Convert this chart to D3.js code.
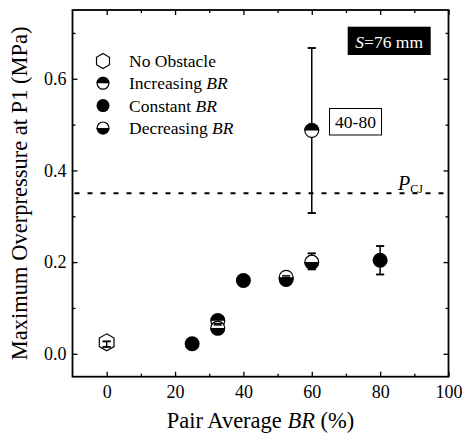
<!DOCTYPE html>
<html><head><meta charset="utf-8">
<script src="https://cdn.jsdelivr.net/npm/d3@7"></script>
<style>body{margin:0;background:#fff}</style>
</head><body><svg id="c" width="462" height="436"></svg>
<script>
// Data
const seriesNames = ["No Obstacle", "Increasing BR", "Constant BR", "Decreasing BR"];
const noObstacle = [{x: 0, y: 0.025, lo: 0.015, hi: 0.027}];
const increasingBR = [
  {x: 32.5, y: 0.072, lo: 0.066, hi: 0.079},
  {x: 60, y: 0.487, lo: 0.307, hi: 0.667}
];
const constantBR = [
  {x: 25, y: 0.022, lo: 0.019, hi: 0.025},
  {x: 40, y: 0.160, lo: 0.156, hi: 0.164},
  {x: 52.5, y: 0.162, lo: 0.158, hi: 0.166},
  {x: 80, y: 0.204, lo: 0.173, hi: 0.235}
];
const decreasingBR = [
  {x: 32.5, y: 0.056, lo: 0.051, hi: 0.063},
  {x: 52.5, y: 0.167, lo: 0.160, hi: 0.170},
  {x: 60, y: 0.200, lo: 0.184, hi: 0.219}
];
const xTicks = [0, 20, 40, 60, 80, 100];
const xMinor = [10, 30, 50, 70, 90];
const yTicks = [0.0, 0.2, 0.4, 0.6];
const yMinor = [0.1, 0.3, 0.5, 0.7];
const pCJ = 0.35;

const FONT = "'Liberation Serif', 'Times New Roman', 'DejaVu Serif', serif";
const svg = d3.select("#c").attr("font-family", FONT);
const L = 72.5, R = 448.5, T = 10, B = 376.7;
const x = d3.scaleLinear().domain([-10, 100]).range([L, R]);
const y = d3.scaleLinear().domain([-0.05, 0.75]).range([B, T]);

// Axes (ticks inward, all four sides)
const fmtY = d3.format(".1f");
function styleAxis(g){ g.attr("font-family", FONT); g.select(".domain").remove(); g.selectAll("line").attr("stroke","#000").attr("stroke-width",1.3); g.selectAll("text").attr("font-size",18).attr("fill","#000"); }
svg.append("g").attr("transform",`translate(0,${B})`).call(d3.axisBottom(x).tickValues(xTicks).tickSize(-5).tickPadding(9).tickFormat(d3.format("d"))).call(styleAxis);
svg.append("g").attr("transform",`translate(0,${B})`).call(d3.axisBottom(x).tickValues(xMinor).tickSize(-3).tickFormat("")).call(styleAxis);
svg.append("g").attr("transform",`translate(0,${T})`).call(d3.axisTop(x).tickValues(xTicks).tickSize(-5).tickFormat("")).call(styleAxis);
svg.append("g").attr("transform",`translate(0,${T})`).call(d3.axisTop(x).tickValues(xMinor).tickSize(-3).tickFormat("")).call(styleAxis);
svg.append("g").attr("transform",`translate(${L},0)`).call(d3.axisLeft(y).tickValues(yTicks).tickSize(-5).tickPadding(6).tickFormat(fmtY)).call(styleAxis);
svg.append("g").attr("transform",`translate(${L},0)`).call(d3.axisLeft(y).tickValues(yMinor).tickSize(-3).tickFormat("")).call(styleAxis);
svg.append("g").attr("transform",`translate(${R},0)`).call(d3.axisRight(y).tickValues(yTicks).tickSize(-5).tickFormat("")).call(styleAxis);
svg.append("g").attr("transform",`translate(${R},0)`).call(d3.axisRight(y).tickValues(yMinor).tickSize(-3).tickFormat("")).call(styleAxis);

// frame
svg.append("rect").attr("x",L).attr("y",T).attr("width",R-L).attr("height",B-T).attr("fill","none").attr("stroke","#000").attr("stroke-width",1.8);

// P_CJ line
svg.append("line").attr("x1",L+2).attr("x2",R-2).attr("y1",y(pCJ)).attr("y2",y(pCJ))
  .attr("stroke","#000").attr("stroke-width",2).attr("stroke-dasharray","5,8");
const pt = svg.append("text").attr("x",398).attr("y",y(pCJ)-3).attr("font-size",20);
pt.append("tspan").attr("font-style","italic").text("P");
pt.append("tspan").attr("font-size",12).attr("dy",3).text("CJ");

const all = [
  {k:"no", d:noObstacle},
  {k:"const", d:constantBR},
  {k:"inc", d:increasingBR},
  {k:"dec", d:decreasingBR}
];
const eg = svg.append("g");
function errBars(g, withStem){
  all.forEach(s=>s.d.forEach(p=>{
    const cx=x(p.x);
    if(withStem) g.append("line").attr("x1",cx).attr("x2",cx).attr("y1",y(p.lo)).attr("y2",y(p.hi)).attr("stroke","#000").attr("stroke-width",1.5);
    [p.lo,p.hi].forEach(v=>g.append("line").attr("x1",cx-4).attr("x2",cx+4).attr("y1",y(v)).attr("y2",y(v)).attr("stroke","#000").attr("stroke-width",1.5));
  }));
}
errBars(eg, true);

function hexPath(r){ const pts=d3.range(6).map(i=>{const a=Math.PI/3*i-Math.PI/2;return [r*Math.cos(a),r*Math.sin(a)];}); return "M"+pts.join("L")+"Z"; }
function marker(g, kind, cx, cy, r){
  const m=g.append("g").attr("transform",`translate(${cx},${cy})`);
  if(kind==="no"){ m.append("path").attr("d",hexPath(r+1)).attr("fill","none").attr("stroke","#000").attr("stroke-width",1.2); return; }
  if(kind==="const"){ m.append("circle").attr("r",r).attr("fill","#000"); return; }
  m.append("circle").attr("r",r-0.6).attr("fill","#fff").attr("stroke","#000").attr("stroke-width",1.2);
  const arc = d3.arc().innerRadius(0).outerRadius(r);
  const top = kind==="inc";
  m.append("path").attr("d", arc({startAngle: top?-Math.PI/2:Math.PI/2, endAngle: top?Math.PI/2:3*Math.PI/2})).attr("fill","#000");
}
const mg = svg.append("g");
all.forEach(s=>s.d.forEach(p=>marker(mg, s.k, x(p.x), y(p.y), 7.5)));
// caps on top
errBars(svg.append("g"), false);

// Legend
const legKinds = ["no","inc","const","dec"];
const lg = svg.append("g");
seriesNames.forEach((n,i)=>{
  const cy = 61 + i*22.3;
  marker(lg, legKinds[i], 103, cy, 6.5);
  const t = lg.append("text").attr("x",129).attr("y",cy+6).attr("font-size",17.5);
  const parts = n.split(" ");
  if(parts[1]==="BR"){ t.append("tspan").text(parts[0]+" "); t.append("tspan").attr("font-style","italic").text("BR"); }
  else t.text(n);
});

// S=76 mm box
svg.append("rect").attr("x",347.7).attr("y",26.7).attr("width",83).attr("height",28.3).attr("fill","#000");
const st = svg.append("text").attr("x",389.2).attr("y",47.5).attr("text-anchor","middle").attr("font-size",17.5).attr("fill","#fff");
st.append("tspan").attr("font-style","italic").text("S");
st.append("tspan").text("=76 mm");

// 40-80 box
svg.append("rect").attr("x",329.5).attr("y",108.5).attr("width",52).attr("height",26.5).attr("fill","#fff").attr("stroke","#000").attr("stroke-width",1);
svg.append("text").attr("x",355.5).attr("y",128).attr("text-anchor","middle").attr("font-size",17.5).text("40-80");

// Axis titles
const xt = svg.append("text").attr("x",(L+R)/2).attr("y",428).attr("text-anchor","middle").attr("font-size",22.5);
xt.append("tspan").text("Pair Average ");
xt.append("tspan").attr("font-style","italic").text("BR");
xt.append("tspan").text(" (%)");
svg.append("text").attr("transform",`translate(27,${(T+B)/2}) rotate(-90)`).attr("text-anchor","middle").attr("font-size",22.5)
  .text("Maximum Overpressure at P1 (MPa)");
</script></body></html>
